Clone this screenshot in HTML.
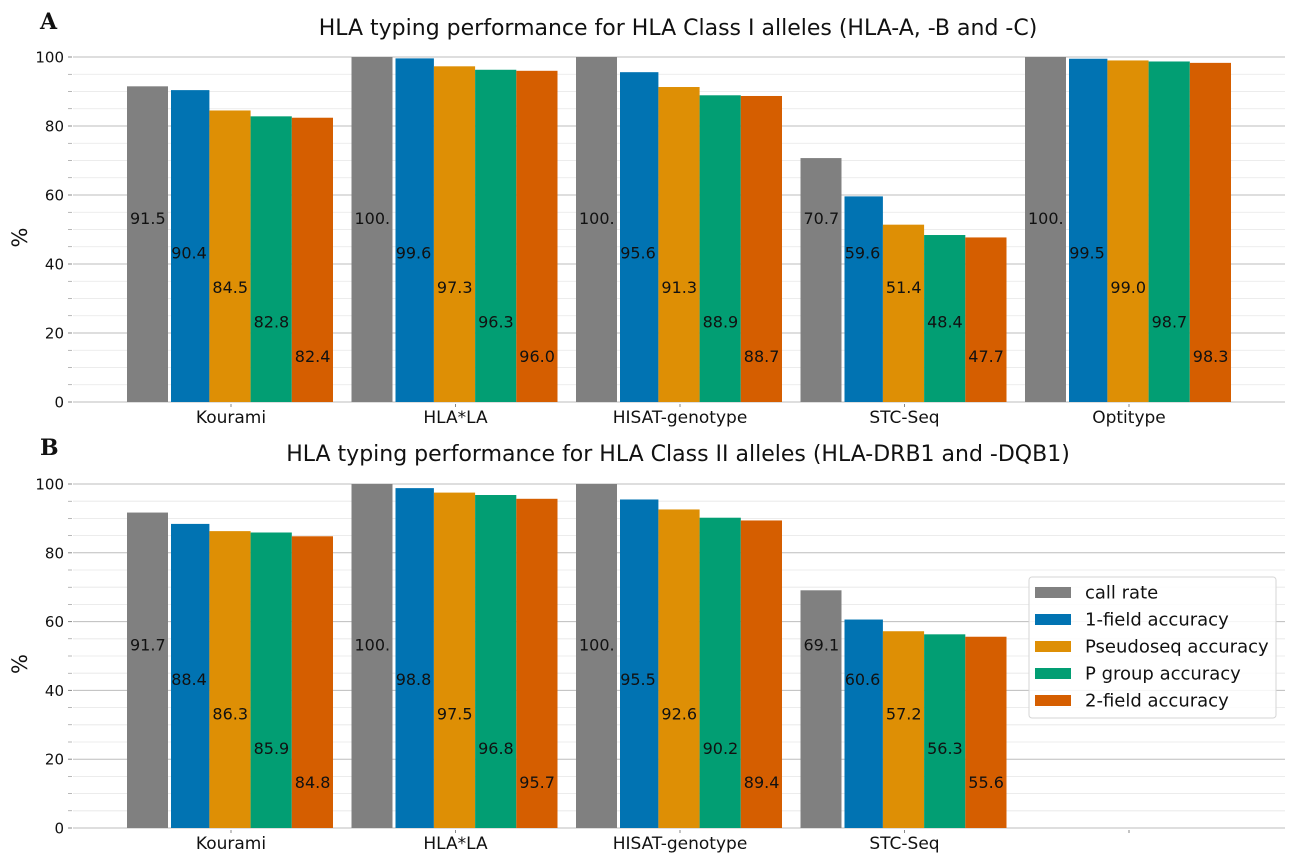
<!DOCTYPE html>
<html><head><meta charset="utf-8"><style>
html,body{margin:0;padding:0;background:#fff;}
svg{display:block;font-family:"DejaVu Sans","Liberation Sans",sans-serif;}
</style></head><body>
<svg id="c" width="1296" height="864" xmlns="http://www.w3.org/2000/svg"></svg>
<script>
const categoriesA = ["Kourami","HLA*LA","HISAT-genotype","STC-Seq","Optitype"];
const categoriesB = ["Kourami","HLA*LA","HISAT-genotype","STC-Seq",""];
const seriesNames = ["call rate","1-field accuracy","Pseudoseq accuracy","P group accuracy","2-field accuracy"];
const callRateA = [91.5,100,100,70.7,100];
const field1A = [90.4,99.6,95.6,59.6,99.5];
const pseudoA = [84.5,97.3,91.3,51.4,99.0];
const pgroupA = [82.8,96.3,88.9,48.4,98.7];
const field2A = [82.4,96.0,88.7,47.7,98.3];
const callRateB = [91.7,100,100,69.1,null];
const field1B = [88.4,98.8,95.5,60.6,null];
const pseudoB = [86.3,97.5,92.6,57.2,null];
const pgroupB = [85.9,96.8,90.2,56.3,null];
const field2B = [84.8,95.7,89.4,55.6,null];
const yTicks = [0,20,40,60,80,100];
const colors = ["#808080","#0173b2","#de8f05","#029e73","#d55e00"];
const svg = document.getElementById('c');
const NS = "http://www.w3.org/2000/svg";
function el(tag, attrs, parent){const e=document.createElementNS(NS,tag);for(const k in attrs)e.setAttribute(k,attrs[k]);(parent||svg).appendChild(e);return e;}
function fmt(v){const s=v.toFixed(1);return s==="100.0"?"100.":s;}
function panel(letter,title,cats,series,y0,y100,titleY){
  const g=el('g',{});
  
  
  const yS=v=>y0-(y0-y100)*v/100;
  const xC=i=>231+224.5*i;
  for(let v=0;v<=100;v+=5){
    const major=v%20===0;
    const l=el('line',{x1:73,x2:1285,y1:yS(v),y2:yS(v),stroke:major?'#bdbdbd':'#e6e6e6','stroke-width':major?1:0.8},g);
    
    
    el('line',{x1:68,x2:72,y1:yS(v),y2:yS(v),stroke:'#888','stroke-width':major?1:0.6},g);
  }
  yTicks.forEach(v=>{
    const t=el('text',{x:64,y:yS(v)+5.5,'text-anchor':'end','font-size':15,fill:'#111'},g);
    t.textContent=v;
    
    
  });
  const yl=el('text',{x:0,y:0,transform:`translate(27,${(y0+y100)/2+8}) rotate(-90)`,'text-anchor':'middle','font-size':21,fill:'#111'},g);
  yl.textContent='%';
  
  
  const W=41.2;
  cats.forEach((c,i)=>{
    series.forEach((arr,j)=>{
      const v=arr[i]; if(v==null) return;
      const left=xC(i)-104+W*j;
      let x=left,w=W;
      if(j===0){w=41;}
      if(j===1){x=left+2.8;w=W-2.8;}
      const r=el('rect',{x:x,y:yS(v),width:w,height:yS(0)-yS(v),fill:colors[j]},g);
      
      
      const t=el('text',{x:left+3,y:yS(53.3-10*j)+6,'font-size':16,fill:'#111'},g);
      t.textContent=fmt(v);
      
      
    });
    el('line',{x1:xC(i),x2:xC(i),y1:y0+2,y2:y0+5,stroke:'#888'},g);
    const tl=el('text',{x:xC(i),y:y0+21,'text-anchor':'middle','font-size':17,fill:'#111'},g);
    tl.textContent=c;
    
    
  });
  const tt=el('text',{x:678,y:titleY,'text-anchor':'middle','font-size':22,fill:'#111'},g);
  tt.textContent=title;
  
  
  const lt=el('text',{x:40,y:titleY-6,'font-size':22,'font-weight':'bold','font-family':'"DejaVu Serif","Liberation Serif",serif',fill:'#111'},g);
  lt.textContent=letter;
  
  
}
panel('A','HLA typing performance for HLA Class I alleles (HLA-A, -B and -C)',categoriesA,[callRateA,field1A,pseudoA,pgroupA,field2A],402,57,35);
panel('B','HLA typing performance for HLA Class II alleles (HLA-DRB1 and -DQB1)',categoriesB,[callRateB,field1B,pseudoB,pgroupB,field2B],828,484,461);
const lg=el('g',{});


el('rect',{x:1029,y:577,width:247,height:141,rx:3,fill:'#fff','fill-opacity':0.85,stroke:'#d6d6d6'},lg);
seriesNames.forEach((n,j)=>{
  const y=592+27*j;
  el('rect',{x:1035,y:y-5,width:36,height:11,fill:colors[j]},lg);
  const t=el('text',{x:1085,y:y+6.5,'font-size':18,fill:'#111'},lg);
  t.textContent=n;
  
  
});
</script>
</body></html>
